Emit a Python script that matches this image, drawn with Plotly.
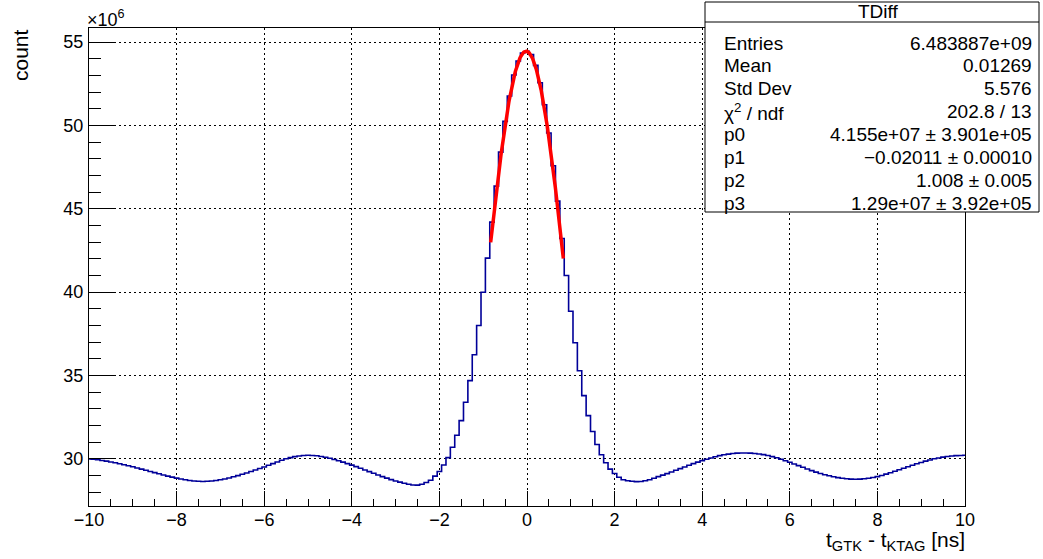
import numpy as np
import plotly.graph_objects as go

# ---------------- data (counts in units of 1e6) ----------------
bin_width = 0.1
first_center = -10.0

bg_left = [  # bin centers -10.0 ... -2.3
    30.00, 29.98, 29.95, 29.91, 29.87, 29.82, 29.77, 29.71, 29.65, 29.59,
    29.53, 29.46, 29.39, 29.32, 29.25, 29.18, 29.11, 29.04, 28.97, 28.91,
    28.85, 28.80, 28.75, 28.71, 28.68, 28.66, 28.65, 28.66, 28.68, 28.71,
    28.75, 28.80, 28.86, 28.93, 29.00, 29.08, 29.16, 29.25, 29.34, 29.43,
    29.52, 29.62, 29.72, 29.82, 29.92, 30.01, 30.08, 30.14, 30.18, 30.21,
    30.22, 30.21, 30.19, 30.15, 30.10, 30.04, 29.97, 29.89, 29.81, 29.72,
    29.63, 29.54, 29.44, 29.34, 29.24, 29.14, 29.04, 28.94, 28.85, 28.76,
    28.68, 28.61, 28.54, 28.48, 28.44, 28.43, 28.48, 28.59,
]
peak = [  # bin centers -2.2 ... 2.2
    28.72, 28.97, 29.25, 29.64, 30.08, 30.70, 31.42, 32.30, 33.40, 34.70,
    36.25, 38.00, 40.00, 42.04, 44.20, 46.36, 48.40, 50.24, 51.76, 53.02,
    53.86, 54.34, 54.45, 54.25, 53.60, 52.56, 51.24, 49.54, 47.58, 45.46,
    43.22, 41.00, 38.86, 36.97, 35.29, 33.80, 32.60, 31.65, 30.87, 30.25,
    29.77, 29.39, 29.13, 28.90, 28.75,
]
bg_right = [  # bin centers 2.3 ... 10.0
    28.69, 28.66, 28.64, 28.65, 28.69, 28.75, 28.84, 28.94, 29.03, 29.12,
    29.22, 29.32, 29.42, 29.52, 29.62, 29.72, 29.81, 29.90, 29.98, 30.06,
    30.13, 30.20, 30.25, 30.29, 30.33, 30.35, 30.36, 30.36, 30.35, 30.33,
    30.30, 30.26, 30.21, 30.14, 30.07, 29.98, 29.89, 29.80, 29.70, 29.60,
    29.50, 29.40, 29.30, 29.21, 29.13, 29.05, 28.99, 28.93, 28.88, 28.84,
    28.81, 28.79, 28.78, 28.79, 28.81, 28.84, 28.89, 28.94, 29.01, 29.09,
    29.17, 29.26, 29.35, 29.44, 29.53, 29.62, 29.71, 29.79, 29.87, 29.94,
    30.01, 30.06, 30.11, 30.15, 30.18, 30.20, 30.21, 30.22,
]
counts = bg_left + peak + bg_right
centers = first_center + bin_width * np.arange(len(counts))

# fit (gaus + const) parameters, p0 and p3 in units of 1e6
p0, p1, p2, p3 = 41.55, -0.02011, 1.008, 12.9
fit_range = (-0.83, 0.83)

stats_labels = ["Entries", "Mean", "Std Dev", "χ<sup>2</sup> / ndf", "p0", "p1", "p2", "p3"]
stats_values = ["6.483887e+09", "0.01269", "5.576", "202.8 / 13",
                "4.155e+07 ± 3.901e+05", "−0.02011 ± 0.00010",
                "1.008 ± 0.005", "1.29e+07 ± 3.92e+05"]
stats_title = "TDiff"

# ---------------- layout geometry ----------------
W, H = 1043, 559
L, R, T, B = 89, 965, 28, 506
FONT = "Liberation Sans, Arial, Helvetica, sans-serif"

def xp(px):
    return (px - L) / (R - L)

def yp(py):
    return (B - py) / (B - T)

fx = np.linspace(fit_range[0], fit_range[1], 200)
fy = p0 * np.exp(-0.5 * ((fx - p1) / p2) ** 2) + p3

fig = go.Figure()
fig.add_trace(go.Scatter(x=centers, y=counts, mode="lines",
                         line=dict(shape="hvh", color="#000099", width=1.6),
                         hoverinfo="skip", showlegend=False))
fig.add_trace(go.Scatter(x=fx, y=fy, mode="lines",
                         line=dict(color="#ff0000", width=3.5),
                         hoverinfo="skip", showlegend=False))

fig.update_layout(
    width=W, height=H,
    margin=dict(l=L, r=W - R, t=T, b=H - B, pad=0, autoexpand=False),
    paper_bgcolor="white", plot_bgcolor="white",
    font=dict(family=FONT, size=19, color="black"),
    showlegend=False,
)
fig.update_xaxes(
    range=[-10, 10], tick0=-10, dtick=2, ticks="inside", ticklen=15,
    tickcolor="black", tickwidth=1, automargin=False,
    showline=True, linecolor="black", linewidth=1, mirror=True,
    showgrid=True, gridcolor="black", gridwidth=1, griddash="2px,3px",
    zeroline=False, tickfont=dict(size=18),
    minor=dict(dtick=0.5, ticks="inside", ticklen=7, tickcolor="black", showgrid=False),
    ticklabelstandoff=-3,
)
fig.update_yaxes(
    range=[27.18, 55.84], tick0=0, dtick=5, ticks="inside", ticklen=25,
    tickcolor="black", tickwidth=1, automargin=False,
    showline=True, linecolor="black", linewidth=1, mirror=True,
    showgrid=True, gridcolor="black", gridwidth=1, griddash="2px,3px",
    zeroline=False, tickfont=dict(size=18),
    minor=dict(dtick=1, ticks="inside", ticklen=12, tickcolor="black", showgrid=False),
    ticklabelstandoff=1,
)

# stats box
bx0, bx1, by0, by1 = 705, 1039, 2, 212
fig.add_shape(type="rect", xref="paper", yref="paper",
              x0=xp(bx0), x1=xp(bx1), y0=yp(by1), y1=yp(by0),
              line=dict(color="black", width=1), fillcolor="white", layer="above")
fig.add_shape(type="line", xref="paper", yref="paper",
              x0=xp(bx0), x1=xp(bx1), y0=yp(22), y1=yp(22),
              line=dict(color="black", width=1), layer="above")

ann = []
ann.append(dict(text=stats_title, x=xp(878), y=yp(12), xref="paper", yref="paper",
                xanchor="center", yanchor="middle", showarrow=False, font=dict(size=19)))
row_y0, row_dy = 43.0, 22.9
for i, (lab, val) in enumerate(zip(stats_labels, stats_values)):
    yy = row_y0 + i * row_dy
    ann.append(dict(text=lab, x=xp(722), y=yp(yy), xref="paper", yref="paper",
                    xanchor="left", yanchor="middle", showarrow=False, font=dict(size=19)))
    ann.append(dict(text=val, x=xp(1034), y=yp(yy), xref="paper", yref="paper",
                    xanchor="right", yanchor="middle", showarrow=False, font=dict(size=19)))

# exponent label, axis titles
ann.append(dict(text="×10<sup>6</sup>", x=xp(85), y=yp(19), xref="paper", yref="paper",
                xanchor="left", yanchor="middle", showarrow=False, font=dict(size=18)))
ann.append(dict(text="count", x=xp(20), y=yp(27), xref="paper", yref="paper",
                xanchor="center", yanchor="top", textangle=-90, showarrow=False,
                font=dict(size=21)))
ann.append(dict(text="t<sub>GTK</sub> - t<sub>KTAG</sub> [ns]", x=xp(967), y=yp(541),
                xref="paper", yref="paper", xanchor="right", yanchor="middle",
                showarrow=False, font=dict(size=21)))
fig.update_layout(annotations=ann)

fig.write_html("out.html", config={"displayModeBar": False},
               post_script="document.body.style.margin='0';document.body.style.padding='0';")
